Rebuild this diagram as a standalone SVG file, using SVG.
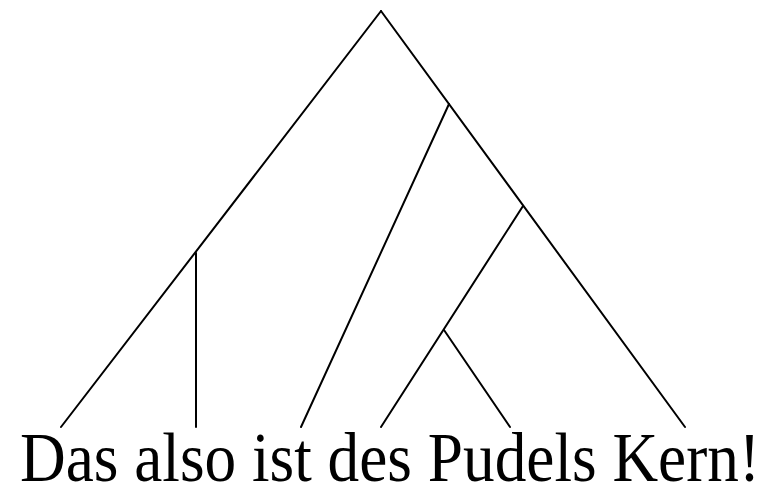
<svg xmlns="http://www.w3.org/2000/svg" width="765" height="484" viewBox="0 0 765 484">
<style>
.e{stroke:#000;stroke-width:2;fill:none;stroke-linecap:round}
.t{font-family:"Liberation Serif","Times New Roman",serif;font-size:69px;fill:#000}
</style>
<rect width="765" height="484" fill="#fff"/>
<g id="connectors">
<line class="e" x1="381" y1="11" x2="61" y2="427"/>
<line class="e" x1="381" y1="11" x2="685" y2="427"/>
<line class="e" x1="196" y1="253" x2="196" y2="427"/>
<line class="e" x1="449" y1="104" x2="301" y2="427"/>
<line class="e" x1="523" y1="206" x2="381" y2="427"/>
<line class="e" x1="444" y1="330" x2="510" y2="427"/>
</g>
<g id="sentence">
<text class="t" x="20" y="481" textLength="740" lengthAdjust="spacingAndGlyphs">Das also ist des Pudels Kern!</text>
</g>
</svg>
